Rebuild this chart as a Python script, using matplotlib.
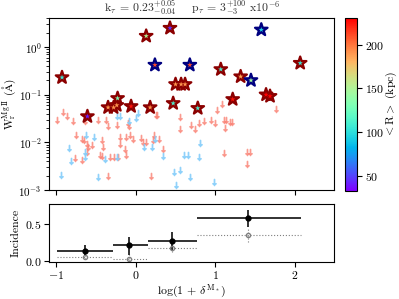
import numpy as np
import matplotlib
matplotlib.use('Agg')
import matplotlib.pyplot as plt

plt.rcParams['font.family'] = 'cmr10'
plt.rcParams['mathtext.fontset'] = 'cm'
plt.rcParams['axes.formatter.use_mathtext'] = True
plt.rcParams['axes.unicode_minus'] = False
plt.rcParams['font.size'] = 8.5
plt.rcParams['xtick.major.pad'] = 2
plt.rcParams['ytick.major.pad'] = 2

# detections (stars): x = log(1+delta), y = W_r (A), mean R (kpc), edge colour
det_x = [-0.93, -0.61, 0.13, 0.43, 0.24, 0.68, 1.58, 0.50, 0.57, 0.62, 1.07, 1.32,
         1.45, 2.07, 1.22, 1.64, 1.69, 0.47, 0.78, 0.18, -0.06, -0.23, -0.35, -0.28, -0.24]
det_y = [0.23, 0.035, 1.7, 2.5, 0.42, 0.42, 2.3, 0.165, 0.165, 0.165, 0.34, 0.24,
         0.20, 0.46, 0.080, 0.10, 0.093, 0.066, 0.052, 0.054, 0.057, 0.084, 0.054, 0.054, 0.060]
det_r = [105, 40, 150, 45, 210, 210, 95, 190, 190, 190, 110, 185,
         145, 105, 225, 230, 230, 110, 110, 190, 225, 130, 190, 190, 190]
det_edge = ['darkred', 'darkred', 'darkred', 'darkred', 'navy', 'navy', 'navy', 'darkred',
            'darkred', 'darkred', 'darkred', 'darkred', 'navy', 'darkred', 'darkred', 'darkred',
            'darkred', 'darkred', 'darkred', 'darkred', 'darkred', 'darkred', 'darkred',
            'darkred', 'darkred']

# upper limits
red_x = [-0.99, -0.92, -0.87, -0.79, -0.64, -0.48, -0.37, -0.35, -0.24, -0.75, -0.68, -0.65,
         -0.62, -0.60, -0.55, -0.43, -0.42, -0.45, -0.43, -0.32, -0.27, -0.22, -0.20, -0.20,
         -0.77, -0.68, -0.61, -0.35, -0.10, -0.09, -0.12, -0.07, -0.04, -0.14, -0.13, 0.07,
         0.09, 0.13, 0.21, 0.23, 0.29, 0.34, 0.25, 0.27, 0.55, 0.56, 0.69, 0.19, 0.74, 1.08,
         1.02, 0.80, 0.86, 0.95, 1.00, 1.11, 1.13, 1.12, 1.19, 1.21, 1.11, 1.40, 1.44, 1.40, 1.76]
red_y = [0.030, 0.043, 0.035, 0.028, 0.028, 0.030, 0.030, 0.022, 0.023, 0.014, 0.012, 0.011,
         0.0094, 0.0079, 0.0089, 0.011, 0.0079, 0.0055, 0.0051, 0.0049, 0.0050, 0.0049, 0.0129,
         0.0094, 0.0047, 0.0042, 0.0064, 0.0020, 0.025, 0.022, 0.0129, 0.0145, 0.012, 0.0073,
         0.0055, 0.0122, 0.0101, 0.0101, 0.011, 0.0142, 0.0115, 0.0073, 0.038, 0.038, 0.034,
         0.019, 0.023, 0.0020, 0.019, 0.065, 0.047, 0.026, 0.028, 0.030, 0.025, 0.030, 0.030,
         0.020, 0.027, 0.027, 0.0060, 0.0064, 0.0062, 0.0035, 0.051]
blue_x = [-0.24, -0.20, -0.63, -0.53, -0.84, -0.64, -0.64, -0.82, -0.39, -0.24, -0.94, -0.48,
          -0.08, 0.00, 0.03, 0.10, 0.20, 0.24, 0.34, 0.61, 0.66, 0.48, 0.55, 0.68, 0.51, 0.81,
          0.80, 0.98]
blue_y = [0.035, 0.035, 0.014, 0.0128, 0.0077, 0.0062, 0.0049, 0.0040, 0.0044, 0.0050, 0.0021,
          0.0019, 0.0275, 0.032, 0.042, 0.0079, 0.0079, 0.012, 0.0051, 0.0055, 0.0055, 0.0024,
          0.0026, 0.0019, 0.0013, 0.0096, 0.0050, 0.0015]

# incidence per bin
bin_lo = [-0.99, -0.29, 0.15, 0.77]
bin_hi = [-0.29, 0.15, 0.77, 2.08]
bin_c = [-0.64, -0.08, 0.45, 1.41]
inc = [0.13, 0.21, 0.27, 0.575]
inc_lo = [0.063, 0.086, 0.13, 0.455]
inc_hi = [0.22, 0.32, 0.39, 0.68]
inc2 = [0.05, 0.03, 0.18, 0.35]
inc2_lo = [0.03, 0.0, 0.12, 0.25]
inc2_hi = [0.08, 0.10, 0.28, 0.43]

fig = plt.figure(figsize=(3.99, 2.99), dpi=100)
ax = fig.add_axes([0.1236, 0.3645, 0.7143, 0.5742])
ax2 = fig.add_axes([0.1236, 0.1247, 0.7143, 0.192])
cax = fig.add_axes([0.8647, 0.3622, 0.0301, 0.5766])

ax.plot(red_x, red_y, ls='none', marker=r'$\downarrow$', ms=4.5, color='salmon', alpha=0.75)
ax.plot(blue_x, blue_y, ls='none', marker=r'$\downarrow$', ms=4.5, color='lightskyblue', alpha=0.9)
ax.scatter(det_x, det_y, marker='*', s=90, c='none', edgecolors=det_edge, linewidths=1.6, zorder=3)
ax.scatter(det_x, det_y, marker='*', s=90, c=det_edge, edgecolors='none', zorder=3)
sc = ax.scatter(det_x, det_y, marker='*', s=16, c=det_r, cmap='rainbow', vmin=33, vmax=230,
                edgecolors='none', zorder=4)
ax.set_yscale('log')
ax.set_ylim(1e-3, 4)
ax.set_xlim(-1.09, 2.5)
ax.set_xticks([-1, 0, 1, 2])
ax.set_xticklabels([])
ax.tick_params(which='both', direction='out')
ax.tick_params(axis='y', labelsize=8)
ax.set_ylabel(r'W$_{\rm r}^{\rm Mg\,II}$ ($\rm\AA$)', fontsize=8)
ax.yaxis.set_label_coords(-0.11, 0.5)
ax.set_title(r'k$_\tau$ = 0.23$^{+0.05}_{-0.04}$    p$_\tau$ = 3$^{+100}_{-3}$ x10$^{-6}$',
             fontsize=8.5, pad=3, color='#333333')

cb = fig.colorbar(sc, cax=cax)
cb.set_ticks([50, 100, 150, 200])
cb.set_label(r'$<$R$>$ (kpc)', labelpad=0)

xerr = [np.array(bin_c) - np.array(bin_lo), np.array(bin_hi) - np.array(bin_c)]
ax2.errorbar(bin_c, inc2, xerr=xerr, yerr=[np.array(inc2) - np.array(inc2_lo), np.array(inc2_hi) - np.array(inc2)],
             fmt='o', ms=3, mfc='none', mec='grey', ecolor='grey', elinewidth=0.8, ls='none')
eb = ax2.containers[-1]
for lc in eb[2]:
    lc.set_linestyle(':')
ax2.errorbar(bin_c, inc, xerr=xerr, yerr=[np.array(inc) - np.array(inc_lo), np.array(inc_hi) - np.array(inc)],
             fmt='o', ms=3.5, color='black', ecolor='#222222', elinewidth=1.3, ls='none')
ax2.set_xlim(-1.09, 2.5)
ax2.set_ylim(-0.01, 0.76)
ax2.set_xticks([-1, 0, 1, 2])
ax2.set_yticks([0.0, 0.5])
ax2.set_ylabel('Incidence', labelpad=3)
ax2.set_xlabel(r'log(1 + $\delta^{\rm M_*}$)', labelpad=1)

fig.savefig('out.png', dpi=100)
